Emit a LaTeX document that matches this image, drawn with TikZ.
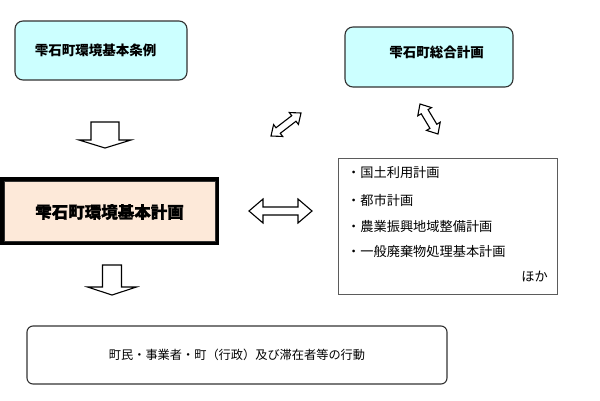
\documentclass[tikz,border=0pt]{standalone}
\usepackage{fontspec}
\newfontfamily\cjk{Noto Sans CJK JP}
\newfontfamily\cjkheavy{Noto Sans CJK JP}[BoldFeatures={FakeBold=1.2}]
\usetikzlibrary{calc}
\definecolor{cyanfill}{RGB}{204,255,255}
\definecolor{peach}{RGB}{253,233,217}
\definecolor{edge}{RGB}{50,50,50}
\tikzset{
  rbox/.style={draw=edge, line width=1.1pt, rounded corners=8pt, inner sep=0pt},
  cbox/.style={rbox, fill=cyanfill},
  txt/.style={inner sep=0pt, font=\cjk},
  blockarrow/.style={draw=black, fill=white, line width=1.1pt, line join=miter},
}
\newcommand\dblarr[5]{%
  \coordinate (p1) at ($(#1)!#5!(#2)$);
  \coordinate (p2) at ($(#2)!#5!(#1)$);
  \draw[blockarrow] (#1) -- ($(p1)!#4!90:(#2)$) -- ($(p1)!#3!90:(#2)$)
    -- ($(p2)!#3!-90:(#1)$) -- ($(p2)!#4!-90:(#1)$) -- (#2)
    -- ($(p2)!#4!90:(#1)$) -- ($(p2)!#3!90:(#1)$)
    -- ($(p1)!#3!-90:(#2)$) -- ($(p1)!#4!-90:(#2)$) -- cycle;}
\newcommand\downarr[5]{%
  \coordinate (p2) at ($(#2)!#5!(#1)$);
  \draw[blockarrow] ($(#1)!#3!90:(#2)$) -- ($(p2)!#3!-90:(#1)$)
    -- ($(p2)!#4!-90:(#1)$) -- (#2) -- ($(p2)!#4!90:(#1)$)
    -- ($(p2)!#3!90:(#1)$) -- ($(#1)!#3!-90:(#2)$) -- cycle;}
\begin{document}
\begin{tikzpicture}[x=1pt,y=-1pt]
\useasboundingbox (0,0) rectangle (600,400);
% top left box
\node[cbox, minimum width=172pt, minimum height=59pt] (jorei) at (101,50.5) {};
\node[txt, font=\cjk\bfseries\fontsize{13.5}{14}\selectfont] (joreit) at (95.5,50) {雫石町環境基本条例};
% top right box
\node[cbox, minimum width=168pt, minimum height=60pt] (sogo) at (429,57) {};
\node[txt, font=\cjk\bfseries\fontsize{13.5}{14}\selectfont] (sogot) at (436.5,52) {雫石町総合計画};
% main box
\node[draw=black, line width=4pt, fill=peach, minimum width=215pt, minimum height=64pt, inner sep=0pt] (main) at (109.5,211) {};
\draw[line width=1pt, draw=edge] ($(main.north west)+(4,4)$) rectangle ($(main.south east)+(-4,-4)$);
\node[txt, font=\cjkheavy\bfseries\fontsize{16.5}{17}\selectfont] (maint) at (109.5,212) {雫石町環境基本計画};
% list box
\node[draw=edge!80, line width=1pt, minimum width=219pt, minimum height=136pt, inner sep=0pt] (list) at (447.5,226) {};
\node[txt, anchor=west, font=\cjk\fontsize{13.2}{14}\selectfont] (l1) at (347,173) {・国土利用計画};
\node[txt, anchor=west, font=\cjk\fontsize{13.2}{14}\selectfont] (l2) at (347,200) {・都市計画};
\node[txt, anchor=west, font=\cjk\fontsize{13.2}{14}\selectfont] (l3) at (347,226) {・農業振興地域整備計画};
\node[txt, anchor=west, font=\cjk\fontsize{13.2}{14}\selectfont] (l4) at (347,252) {・一般廃棄物処理基本計画};
\node[txt, anchor=east, font=\cjk\fontsize{13.2}{14}\selectfont] (l5) at (548,277) {ほか};
% bottom box
\node[rbox, rounded corners=6pt, minimum width=420pt, minimum height=58pt] (kodo) at (237,355) {};
\node[txt, font=\cjk\fontsize{12.2}{13}\selectfont] (kodot) at (237,355) {町民・事業者・町（行政）及び滞在者等の行動};
% arrows
\coordinate (a1s) at (105,122); \coordinate (a1e) at (105,148);
\downarr{a1s}{a1e}{14pt}{26pt}{8pt}
\coordinate (a2s) at (112,265); \coordinate (a2e) at (112,295);
\downarr{a2s}{a2e}{9.5pt}{24.5pt}{8pt}
\coordinate (h1) at (249,211); \coordinate (h2) at (312,211);
\dblarr{h1}{h2}{4pt}{12pt}{14pt}
\coordinate (g1) at (271,136); \coordinate (g2) at (301,113);
\dblarr{g1}{g2}{3.5pt}{7.5pt}{9pt}
\coordinate (k1) at (420,104); \coordinate (k2) at (438,134);
\dblarr{k1}{k2}{4pt}{8pt}{9pt}
\end{tikzpicture}
\end{document}
